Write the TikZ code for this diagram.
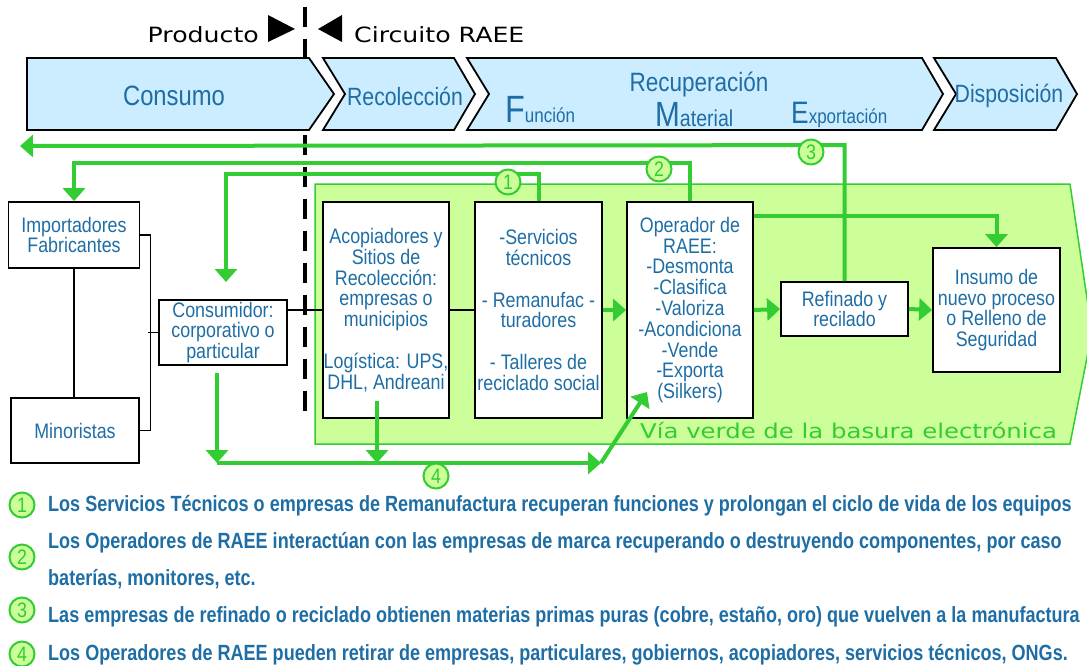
\documentclass[tikz,border=0pt]{standalone}
\usepackage{fontspec}
\setmainfont{Liberation Sans}
\newfontfamily\narrowfont[FakeStretch=0.85]{Liberation Sans}
\newfontfamily\legendfont[FakeStretch=0.82]{Liberation Sans}
\newfontfamily\widefont[FakeStretch=1.2]{DejaVu Sans}
\usetikzlibrary{arrows.meta}
\definecolor{raeeblue}{RGB}{30,110,165}
\definecolor{flowgreen}{RGB}{51,204,51}
\definecolor{viafill}{RGB}{204,255,153}
\definecolor{stagefill}{RGB}{204,236,255}

\begin{document}
\begin{tikzpicture}[x=1pt,y=-1pt,
  box/.style={draw,line width=1.8pt,fill=white,inner sep=0pt,align=center,
    text=raeeblue,font=\narrowfont\fontsize{21}{20.8}\selectfont},
  stage/.style={draw,line width=1.8pt,fill=stagefill},
  stagetext/.style={text=raeeblue,inner sep=0pt,font=\narrowfont\fontsize{#1}{#1}\selectfont},
  flow/.style={draw=flowgreen,line width=4pt,-{Triangle[width=22pt,length=13pt]}},
  link/.style={draw,line width=1.5pt},
  num/.style={circle,draw=flowgreen,line width=2pt,fill=viafill,minimum size=25pt,
    inner sep=0pt,text=flowgreen,font=\narrowfont\fontsize{21}{21}\selectfont},
  legend/.style={anchor=base west,inner sep=0pt,text=raeeblue,
    font=\legendfont\bfseries\fontsize{22}{22}\selectfont}]
\useasboundingbox (0,0) rectangle (1087,665);
\clip (0,0) rectangle (1087,665);

% frontera producto / circuito RAEE
\draw[line width=3.5pt,dash pattern=on 20pt off 12pt] (305,7) -- (305,418);
\fill (268,15) -- (295,29) -- (268,42) -- cycle;
\fill (342,15) -- (318,29) -- (342,42) -- cycle;
\node[anchor=base east,inner sep=0pt,font=\widefont\fontsize{21}{21}\selectfont] (prod) at (259,42) {Producto};
\node[anchor=base west,inner sep=0pt,font=\widefont\fontsize{21}{21}\selectfont] (circ) at (354,42) {Circuito RAEE};

% etapas
\draw[stage] (27,58) -- (309,58) -- (334,94) -- (309,130) -- (27,130) -- cycle;
\foreach \a/\b in {323/454,467/922,934/1056}{
\draw[stage] (\a,58) -- (\b,58) -- (\b+21,94) -- (\b,130) -- (\a,130) -- (\a+22,94) -- cycle;};
\node[stagetext=28] (consumo) at (174,96) {Consumo};
\node[stagetext=25] (recol) at (405,96) {Recolección};
\node[stagetext=26.5,anchor=base] (recup) at (699,91) {Recuperación};
\node[stagetext=38,anchor=base west] (fun) at (505,122) {F\fontsize{20}{20}\selectfont unción};
\node[stagetext=35,anchor=base west] (mat) at (655,126) {M\fontsize{23}{23}\selectfont aterial};
\node[stagetext=31,anchor=base west] (exp) at (791,123) {E\fontsize{20}{20}\selectfont xportación};
\node[stagetext=25] (dispo) at (1009,96) {Disposición};

% via verde
\draw[flowgreen,line width=1.5pt,fill=viafill] (315,184) -- (1070,184) -- (1092,332) -- (1070,444) -- (315,444) -- cycle;
\node[anchor=base west,inner sep=0pt,text=flowgreen,font=\widefont\fontsize{20.3}{20.3}\selectfont] (via) at (640,438) {Vía verde de la basura electrónica};

% actores
\node[box,minimum width=131pt,minimum height=66pt] (imp) at (74,235) {Importadores\\Fabricantes};
\node[box,minimum width=128pt,minimum height=65pt] (mino) at (75,430.5) {Minoristas};
\node[box,minimum width=128pt,minimum height=65pt] (cons) at (223,332.5) {Consumidor:\\corporativo o\\particular};
\node[box,minimum width=126pt,minimum height=216pt] (acop) at (386,310) {Acopiadores y\\Sitios de\\Recolección:\\empresas o\\municipios\\[20.8pt]Logística: UPS,\\DHL, Andreani};
\node[box,minimum width=127pt,minimum height=216pt] (serv) at (538.5,310) {-Servicios\\técnicos\\[20.8pt]- Remanufac -\\turadores\\[20.8pt]- Talleres de\\reciclado social};
\node[box,minimum width=126pt,minimum height=216pt] (oper) at (690,310) {Operador de\\RAEE:\\-Desmonta\\-Clasifica\\-Valoriza\\-Acondiciona\\-Vende\\-Exporta\\(Silkers)};
\node[box,minimum width=127pt,minimum height=54pt] (refi) at (844.5,309) {Refinado y\\recilado};
\node[box,minimum width=127pt,minimum height=124pt] (insu) at (996.5,310) {Insumo de\\nuevo proceso\\o Relleno de\\Seguridad};

% cadena de distribucion
\draw[link] (imp.south) -- (imp.south |- mino.north);
\draw[link] (imp.east) -- ++(10,0) |- (mino.east);
\draw[link] (cons.west) -- ++(-10,0);
\draw[link] (cons.east |- acop.west) -- (acop.west);
\draw[link] (acop.east) -- (serv.west);

% flujos
\draw[flow] (serv.east) -- (oper.west);
\draw[flow] (oper.east) -- (refi.west);
\draw[flow] (refi.east) -- (insu.west);
\draw[flow] ([yshift=-15pt]oper.north east) -| (insu.north);
\coordinate (ret) at (20,146);
\coordinate (c1) at (226,282);
\draw[flow] (refi.north) -- ++(0,-136) -- (ret);
\draw[flow] (oper.north) -- ++(0,-38) -| (imp.north);
\draw[flow] (serv.north) -- ++(0,-27) -| (c1);
\coordinate (d1) at (217,373);
\coordinate (d2) at (217,463);
\coordinate (d3) at (601,463);
\coordinate (d4) at (647,392);
\coordinate (a1) at (377,401);
\coordinate (a2) at (377,463);
\draw[flow] (d2) -- (d3);
\draw[flow] (d1) -- (d2);
\draw[flow] (a1) -- (a2);
\draw[flow] (d3) -- (d4);

\node[num] (n1) at (508,182) {1};
\node[num] (n2) at (659,169) {2};
\node[num] (n3) at (811,152) {3};
\node[num] (n4) at (436,476) {4};

% leyenda
\foreach \k/\y in {1/505,2/557,3/610,4/654}{
\node[num] (l\k) at (22,\y) {\k};};
\node[legend] (t1) at (48,511) {Los Servicios Técnicos o empresas de Remanufactura recuperan funciones y prolongan el ciclo de vida de los equipos};
\node[legend] (t2) at (48,548) {Los Operadores de RAEE interactúan con las empresas de marca recuperando o destruyendo componentes, por caso};
\node[legend] (t3) at (48,585) {baterías, monitores, etc.};
\node[legend] (t4) at (48,622) {Las empresas de refinado o reciclado obtienen materias primas puras (cobre, estaño, oro) que vuelven a la manufactura};
\node[legend] (t5) at (48,660) {Los Operadores de RAEE pueden retirar de empresas, particulares, gobiernos, acopiadores, servicios técnicos, ONGs.};
\end{tikzpicture}
\end{document}
